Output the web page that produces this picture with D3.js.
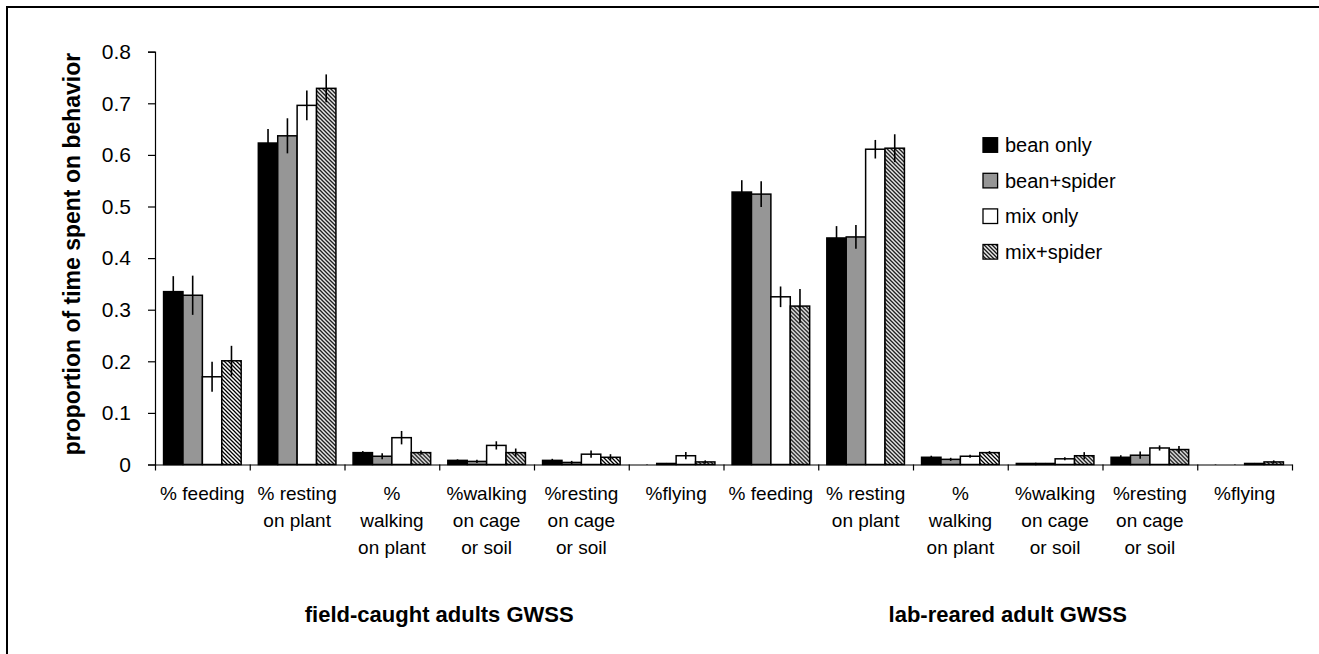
<!DOCTYPE html>
<html>
<head>
<meta charset="utf-8">
<script src="https://cdn.jsdelivr.net/npm/d3@7"></script>
<style>
  html, body { margin: 0; padding: 0; background: #fff; }
  svg { display: block; font-family: "Liberation Sans", Arial, sans-serif; }
</style>
</head>
<body>
<svg id="chart" width="1319" height="654"></svg>
<script>
// ---------------- data ----------------
const categories = [
  "% feeding", "% resting|on plant", "%|walking|on plant", "%walking|on cage|or soil", "%resting|on cage|or soil", "%flying",
  "% feeding", "% resting|on plant", "%|walking|on plant", "%walking|on cage|or soil", "%resting|on cage|or soil", "%flying"
];
const groupLabels = ["field-caught adults GWSS", "lab-reared adult GWSS"];
const seriesNames = ["bean only", "bean+spider", "mix only", "mix+spider"];

const beanOnly      = [0.335, 0.623, 0.023, 0.008, 0.008, 0.000,   0.528, 0.439, 0.014, 0.002, 0.014, 0.000];
const beanSpider    = [0.328, 0.637, 0.016, 0.006, 0.004, 0.002,   0.524, 0.441, 0.010, 0.002, 0.018, 0.000];
const mixOnly       = [0.170, 0.696, 0.052, 0.037, 0.020, 0.017,   0.325, 0.611, 0.016, 0.011, 0.032, 0.002];
const mixSpider     = [0.201, 0.729, 0.023, 0.023, 0.014, 0.005,   0.307, 0.613, 0.023, 0.017, 0.029, 0.005];

const beanOnlyErr   = [0.030, 0.027, 0.003, 0.002, 0.003, 0.001,   0.023, 0.023, 0.003, 0.001, 0.004, 0.001];
const beanSpiderErr = [0.038, 0.034, 0.006, 0.003, 0.003, 0.001,   0.025, 0.023, 0.003, 0.001, 0.007, 0.001];
const mixOnlyErr    = [0.029, 0.029, 0.013, 0.008, 0.007, 0.007,   0.020, 0.018, 0.003, 0.003, 0.005, 0.001];
const mixSpiderErr  = [0.029, 0.027, 0.004, 0.008, 0.006, 0.003,   0.033, 0.027, 0.003, 0.007, 0.007, 0.003];

const yTicks = [0, 0.1, 0.2, 0.3, 0.4, 0.5, 0.6, 0.7, 0.8];
const yTickLabels = ["0", "0.1", "0.2", "0.3", "0.4", "0.5", "0.6", "0.7", "0.8"];
const yTitle = "proportion of time spent on behavior";

const seriesValues = [beanOnly, beanSpider, mixOnly, mixSpider];
const seriesErrors = [beanOnlyErr, beanSpiderErr, mixOnlyErr, mixSpiderErr];

// ---------------- layout ----------------
const svg = d3.select("#chart");
const plotLeft = 155, plotRight = 1292, plotTop = 51.7, plotBottom = 464.5;
const FONT = "Liberation Sans, Arial, sans-serif";

const defs = svg.append("defs");
const pat = defs.append("pattern")
  .attr("id", "hatch").attr("patternUnits", "userSpaceOnUse")
  .attr("width", 4).attr("height", 4);
pat.append("rect").attr("width", 4).attr("height", 4).attr("fill", "#fff");
pat.append("path").attr("d", "M0,0 L4,4 M-1,3 L1,5 M3,-1 L5,1")
  .attr("stroke", "#000").attr("stroke-width", 1.3);

const fills = ["#000", "#969696", "#fff", "url(#hatch)"];

// outer frame (only top and left visible)
svg.append("rect").attr("x", 7).attr("y", 7).attr("width", 1400).attr("height", 800)
  .attr("fill", "none").attr("stroke", "#000").attr("stroke-width", 2);

const y = d3.scaleLinear().domain([0, 0.8]).range([plotBottom, plotTop]);
const x0 = d3.scaleBand().domain(d3.range(categories.length)).range([plotLeft, plotRight]).paddingInner(0).paddingOuter(0);
const x1 = d3.scaleBand().domain(d3.range(seriesNames.length)).range([0, x0.bandwidth()]).paddingInner(0).paddingOuter(0.442);
const xEdges = d3.scaleLinear().domain([0, categories.length]).range([plotLeft, plotRight]);

// bars
const cats = svg.append("g").selectAll("g").data(d3.range(categories.length)).join("g")
  .attr("transform", i => `translate(${x0(i)},0)`);

cats.selectAll("rect").data(i => seriesValues.map((s, k) => ({k, v: s[i], e: seriesErrors[k][i]})))
  .join("rect")
  .attr("x", d => x1(d.k))
  .attr("y", d => y(d.v))
  .attr("width", x1.bandwidth())
  .attr("height", d => y(0) - y(d.v))
  .attr("fill", d => fills[d.k])
  .attr("stroke", "#000").attr("stroke-width", 1.5);

cats.selectAll("line.err").data(i => seriesValues.map((s, k) => ({k, v: s[i], e: seriesErrors[k][i]})))
  .join("line").attr("class", "err")
  .attr("x1", d => x1(d.k) + x1.bandwidth() / 2)
  .attr("x2", d => x1(d.k) + x1.bandwidth() / 2)
  .attr("y1", d => y(d.v + d.e))
  .attr("y2", d => y(Math.max(0, d.v - d.e)))
  .attr("stroke", "#000").attr("stroke-width", 1.6);

// y axis
const yAxis = svg.append("g").attr("transform", `translate(${plotLeft},0)`)
  .call(d3.axisLeft(y).tickValues(yTicks).tickFormat((d, i) => yTickLabels[i]).tickSize(7).tickPadding(17));
yAxis.select(".domain").attr("stroke", "#000").attr("stroke-width", 1.2);
yAxis.selectAll(".tick line").attr("stroke", "#000").attr("stroke-width", 1.2);
yAxis.selectAll(".tick text").attr("font-size", 21).attr("font-family", FONT).attr("fill", "#000");

// x axis
const xAxis = svg.append("g").attr("transform", `translate(0,${plotBottom})`)
  .call(d3.axisBottom(xEdges).tickValues(d3.range(categories.length + 1)).tickFormat("").tickSize(6).tickSizeOuter(0));
xAxis.select(".domain").attr("stroke", "#000").attr("stroke-width", 1.2);
xAxis.selectAll(".tick line").attr("stroke", "#000").attr("stroke-width", 1.2);

// category labels
const lab = svg.append("g").selectAll("text").data(categories).join("text")
  .attr("x", (d, i) => x0(i) + x0.bandwidth() / 2)
  .attr("y", 500)
  .attr("text-anchor", "middle")
  .attr("font-size", 19)
  .attr("fill", "#000");
lab.each(function(d) {
  const parts = d.split("|");
  d3.select(this).selectAll("tspan").data(parts).join("tspan")
    .attr("x", d3.select(this).attr("x"))
    .attr("dy", (p, j) => j === 0 ? 0 : 27)
    .text(p => p);
});

// group labels
svg.append("g").selectAll("text").data(groupLabels).join("text")
  .attr("x", (d, g) => (xEdges(g * 6) + xEdges(g * 6 + 6)) / 2)
  .attr("y", 622)
  .attr("text-anchor", "middle")
  .attr("font-size", 22).attr("font-weight", "bold")
  .attr("fill", "#000")
  .text(d => d);

// y title
svg.append("text")
  .attr("transform", "translate(80,254) rotate(-90)")
  .attr("text-anchor", "middle")
  .attr("font-size", 23).attr("font-weight", "bold")
  .attr("fill", "#000")
  .text(yTitle);

// legend
const legend = svg.append("g").selectAll("g").data(seriesNames).join("g")
  .attr("transform", (d, i) => `translate(983,${145 + i * 35.6})`);
legend.append("rect").attr("x", 0).attr("y", -7.3).attr("width", 14.6).attr("height", 14.6)
  .attr("fill", (d, i) => fills[i]).attr("stroke", "#000").attr("stroke-width", 1.3);
legend.append("text").attr("x", 22).attr("y", 7)
  .attr("font-size", 20).attr("fill", "#000").text(d => d);
</script>
</body>
</html>
